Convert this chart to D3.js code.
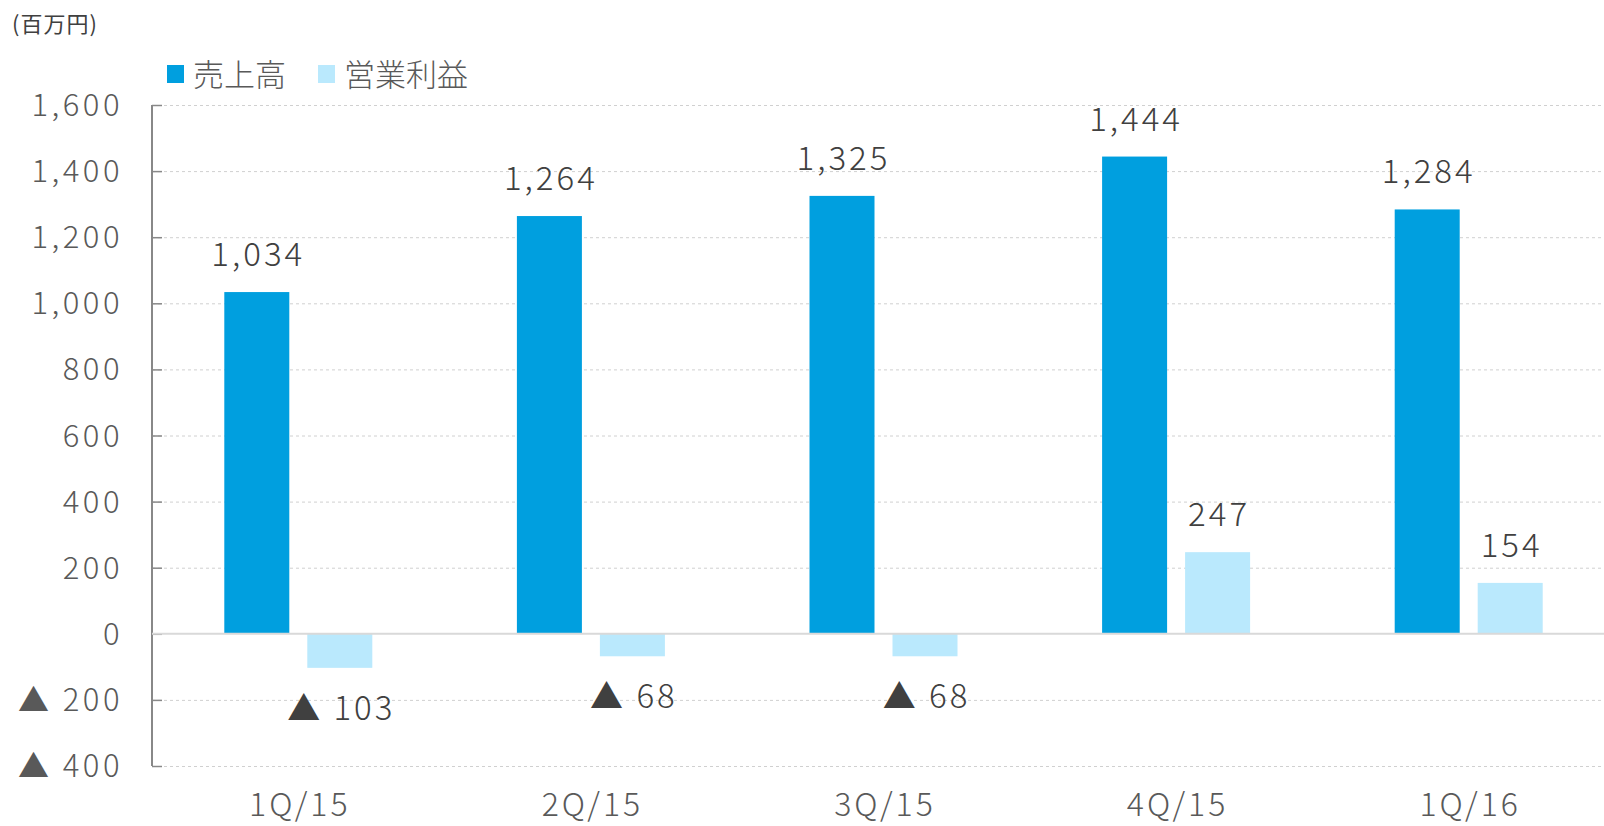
<!DOCTYPE html>
<html>
<head>
<meta charset="utf-8">
<script src="https://cdn.jsdelivr.net/npm/d3@7"></script>
<style>
  html, body { margin: 0; padding: 0; background: #fff; }
  svg text { font-family: "Noto Sans CJK JP", "Noto Sans", sans-serif; }
  .grid line { stroke: #d0d0d0; stroke-dasharray: 3 3; }
</style>
</head>
<body>
<div id="chart"></div>
<script>
const quarters = ["1Q/15", "2Q/15", "3Q/15", "4Q/15", "1Q/16"];
const sales = [1034, 1264, 1325, 1444, 1284];
const opProfit = [-103, -68, -68, 247, 154];
const yTicks = [-400, -200, 0, 200, 400, 600, 800, 1000, 1200, 1400, 1600];
const seriesNames = ["売上高", "営業利益"];
const colors = ["#009fdf", "#bae9fd"];

const totalW = 1604, totalH = 826;
const plotL = 152, plotR = 1604, plotT = 105, plotB = 766;
const bandR = 1615; // last category runs a bit past the edge

const svg = d3.select('#chart').append('svg')
  .attr('width', totalW)
  .attr('height', totalH);

const x = d3.scaleBand().domain(quarters).range([plotL, bandR]);
const y = d3.scaleLinear().domain([-400, 1600]).range([plotB, plotT]);

const barW = 65, gap = 18;
const fmt = (v) => (v < 0 ? "▲ " + d3.format(",")(-v) : d3.format(",")(v));

// gridlines
svg.append('g')
  .attr('class', 'grid')
  .attr('transform', 'translate(' + plotL + ' 0)')
  .call(d3.axisLeft(y).tickValues(yTicks.filter(t => t != 0)).tickSize(-(plotR - plotL)).tickFormat(''))
  .call(g => g.select('.domain').remove());

// y axis
const yax = svg.append('g')
  .attr('transform', 'translate(' + plotL + ' 0)')
  .call(d3.axisRight(y).tickValues(yTicks).tickSize(10).tickFormat(''));
yax.select('.domain').attr('stroke', '#888').attr('stroke-width', 2).attr('d', 'M0,' + plotT + 'V' + plotB);
yax.selectAll('.tick line').attr('stroke', '#888').attr('stroke-width', 1.5);

// tick labels
svg.append('g').selectAll('text')
  .data(yTicks)
  .enter().append('text')
    .attr('x', 123)
    .attr('y', d => y(d) + 11)
    .attr('text-anchor', 'end')
    .attr('font-size', 31)
    .attr('font-weight', 300)
    .attr('letter-spacing', 3.5)
    .attr('fill', '#595959')
    .text(d => fmt(d));

// bars
const series = [sales, opProfit];
series.forEach((vals, si) => {
  const off = si == 0 ? -(barW + gap) / 2 : (barW + gap) / 2;
  svg.append('g').selectAll('rect')
    .data(vals)
    .enter().append('rect')
      .attr('x', (d, i) => x(quarters[i]) + x.bandwidth() / 2 + off - barW / 2)
      .attr('width', barW)
      .attr('y', d => Math.min(y(d), y(0)))
      .attr('height', d => Math.abs(y(d) - y(0)))
      .attr('fill', colors[si]);

  svg.append('g').selectAll('text')
    .data(vals)
    .enter().append('text')
      .attr('x', (d, i) => x(quarters[i]) + x.bandwidth() / 2 + off + 1.5)
      .attr('y', d => d >= 0 ? y(d) - 26 : y(d) + 52)
      .attr('text-anchor', 'middle')
      .attr('font-size', 33)
      .attr('font-weight', 300)
      .attr('letter-spacing', 3)
      .attr('fill', '#404040')
      .text(d => fmt(d));
});

// zero line
svg.append('line')
  .attr('x1', plotL).attr('x2', plotR)
  .attr('y1', y(0)).attr('y2', y(0))
  .attr('stroke', '#d9d9d9').attr('stroke-width', 2);

// x labels
svg.append('g').selectAll('text')
  .data(quarters)
  .enter().append('text')
    .attr('x', d => x(d) + x.bandwidth() / 2 + 1.5)
    .attr('y', 816)
    .attr('text-anchor', 'middle')
    .attr('font-size', 32)
    .attr('font-weight', 300)
    .attr('letter-spacing', 3)
    .attr('fill', '#595959')
    .text(d => d);

// unit
svg.append('text')
  .attr('x', 12).attr('y', 32)
  .attr('font-size', 22)
  .attr('letter-spacing', 1)
  .attr('fill', '#404040')
  .text('(百万円)');

// legend
const legX = [167, 318];
seriesNames.forEach((n, i) => {
  svg.append('rect')
    .attr('x', legX[i]).attr('y', 65)
    .attr('width', 17).attr('height', 18)
    .attr('fill', colors[i]);
  svg.append('text')
    .attr('x', legX[i] + 26).attr('y', 86)
    .attr('font-size', 31)
    .attr('font-weight', 300)
    .attr('fill', '#595959')
    .text(n);
});
</script>
</body>
</html>
